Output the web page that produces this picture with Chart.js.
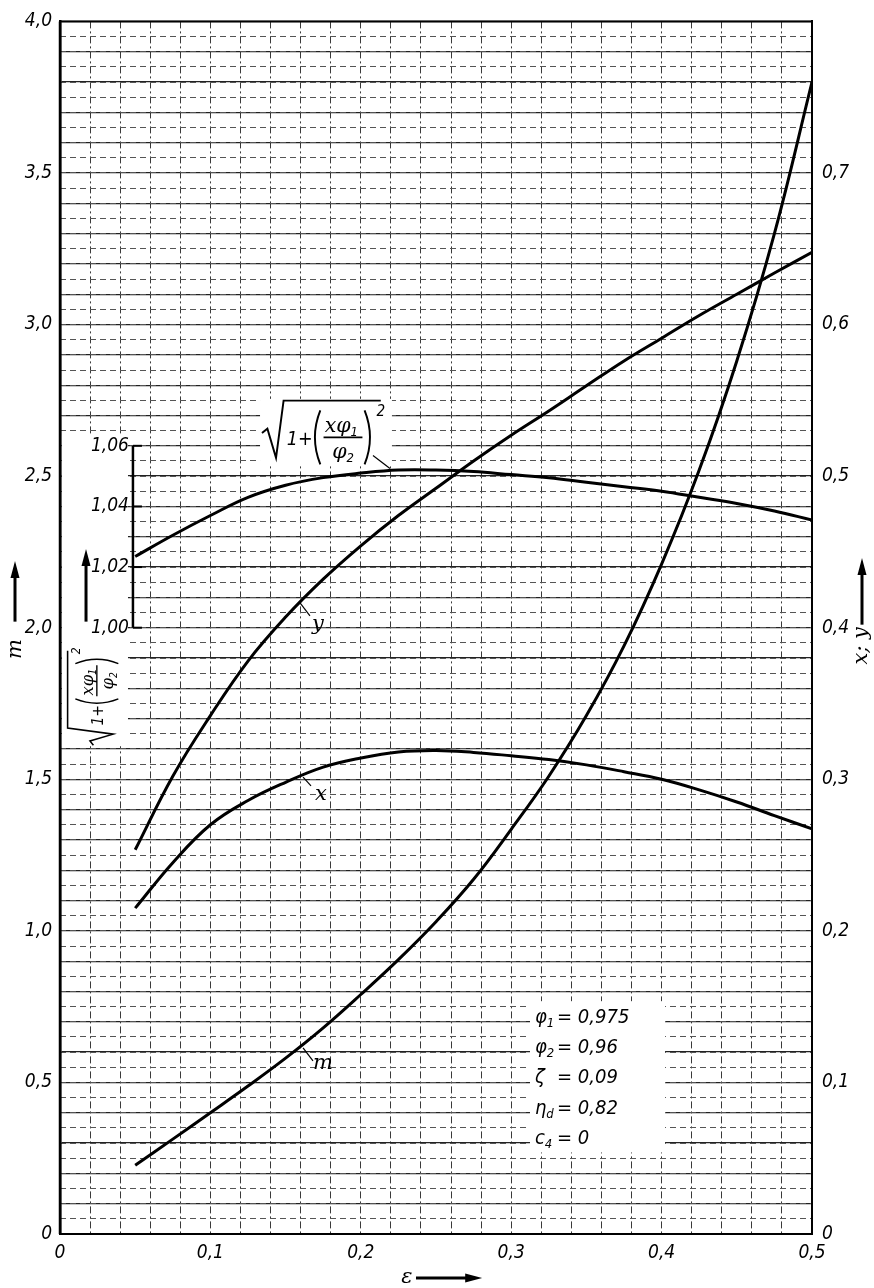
<!DOCTYPE html>
<html>
<head>
<meta charset="utf-8">
<script src="https://cdn.jsdelivr.net/npm/chart.js@4.4.1/dist/chart.umd.min.js"></script>
<style>
    body { margin: 0; background: #fff; }
    #wrap { width: 874px; height: 1288px; }
</style>
</head>
<body>
<div id="wrap"><canvas id="chart" width="874" height="1288"></canvas></div>
<script>
// degree eps on the bottom axis
const eps = [0.05, 0.075, 0.1, 0.125, 0.15, 0.175, 0.2, 0.225, 0.25, 0.275, 0.3, 0.325, 0.35, 0.375, 0.4, 0.425, 0.45, 0.475, 0.5];
// left axis
const mVals = [0.227, 0.313, 0.400, 0.488, 0.580, 0.680, 0.790, 0.905, 1.030, 1.170, 1.335, 1.51, 1.71, 1.94, 2.21, 2.52, 2.88, 3.30, 3.80];
// right axis
const xVals = [0.215, 0.245, 0.270, 0.286, 0.298, 0.308, 0.314, 0.318, 0.319, 0.3177, 0.3155, 0.313, 0.3095, 0.305, 0.300, 0.293, 0.285, 0.276, 0.2673];
const yVals = [0.2535, 0.302, 0.342, 0.378, 0.407, 0.432, 0.454, 0.474, 0.492, 0.510, 0.527, 0.543, 0.5596, 0.576, 0.591, 0.606, 0.620, 0.634, 0.6476];
// inset axis sqrt(1+(x phi1/phi2)^2)
const rootVals = [1.0235, 1.0305, 1.037, 1.043, 1.047, 1.0495, 1.051, 1.052, 1.052, 1.0515, 1.0505, 1.0495, 1.048, 1.0465, 1.045, 1.043, 1.041, 1.0385, 1.0355];

const epsTicks = [0, 0.1, 0.2, 0.3, 0.4, 0.5];
const mTicks = [0, 0.5, 1.0, 1.5, 2.0, 2.5, 3.0, 3.5, 4.0];
const xyTicks = [0, 0.1, 0.2, 0.3, 0.4, 0.5, 0.6, 0.7];
const rootTicks = [1.00, 1.02, 1.04, 1.06];
const params = [['φ', '1', '= 0,975'], ['φ', '2', '= 0,96'], ['ζ', '', '= 0,09'], ['η', 'd', '= 0,82'], ['c', '4', '= 0']];

const sans = "'DejaVu Sans Condensed', 'Liberation Sans Narrow', 'DejaVu Sans', sans-serif";
const serif = "'DejaVu Serif', 'Liberation Serif', serif";
const tickFont = { family: sans, size: 19, style: 'italic' };

function near(list, v) { return list.some(t => Math.abs(t - v) < 1e-9); }
function comma(v, d) { return v === 0 ? '0' : v.toFixed(d).replace('.', ','); }
function pts(vals) { return eps.map((e, i) => ({ x: e, y: vals[i] })); }

function arrow(ctx, x1, y1, x2, y2) {
    const a = Math.atan2(y2 - y1, x2 - x1);
    ctx.save();
    ctx.lineWidth = 3;
    ctx.beginPath();
    ctx.moveTo(x1, y1);
    ctx.lineTo(x2 - 10 * Math.cos(a), y2 - 10 * Math.sin(a));
    ctx.stroke();
    ctx.translate(x2, y2);
    ctx.rotate(a);
    ctx.beginPath();
    ctx.moveTo(0, 0);
    ctx.lineTo(-17, -4.5);
    ctx.lineTo(-17, 4.5);
    ctx.closePath();
    ctx.fill();
    ctx.restore();
}

// origin: left end of the radical, y = fraction bar
function rootFormula(ctx, s) {
    ctx.save();
    ctx.scale(s, s);
    ctx.lineWidth = 1.8;
    ctx.beginPath();
    ctx.moveTo(0, -4); ctx.lineTo(5, -8); ctx.lineTo(13, 19); ctx.lineTo(20, -34); ctx.lineTo(110, -34);
    ctx.stroke();
    ctx.textAlign = 'left';
    ctx.textBaseline = 'alphabetic';
    ctx.font = 'italic 18px ' + sans;
    ctx.fillText('1+', 23, 7);
    ctx.beginPath();
    ctx.moveTo(54, -25); ctx.quadraticCurveTo(44, 0, 54, 25);
    ctx.moveTo(95, -25); ctx.quadraticCurveTo(105, 0, 95, 25);
    ctx.stroke();
    ctx.font = 'italic 19px ' + serif;
    ctx.fillText('xφ', 58, -5);
    let w = ctx.measureText('xφ').width;
    ctx.font = 'italic 12px ' + sans;
    ctx.fillText('1', 58 + w, -1);
    ctx.font = 'italic 19px ' + serif;
    ctx.fillText('φ', 65, 19);
    w = ctx.measureText('φ').width;
    ctx.font = 'italic 12px ' + sans;
    ctx.fillText('2', 65 + w, 23);
    ctx.lineWidth = 1.6;
    ctx.beginPath(); ctx.moveTo(57, 0); ctx.lineTo(93, 0); ctx.stroke();
    ctx.font = 'italic 14px ' + sans;
    ctx.fillText('2', 106, -20);
    ctx.restore();
}

const annotate = {
    id: 'annotate',
    beforeDatasetsDraw(chart) {
        const { ctx, scales } = chart;
        const X = v => scales.x.getPixelForValue(v);
        const M = v => scales.y.getPixelForValue(v);
        const box = (e1, e2, m1, m2) => ctx.fillRect(X(e1), M(m1), X(e2) - X(e1), M(m2) - M(m1));
        ctx.save();
        ctx.fillStyle = '#fff';
        box(0.0013, 0.0452, 2.634, 1.609);
        box(0.133, 0.2207, 2.755, 2.537);
        box(0.3125, 0.4023, 0.768, 0.269);
        ctx.restore();
    },
    afterDraw(chart) {
        const { ctx, chartArea: a, scales } = chart;
        const X = v => scales.x.getPixelForValue(v);
        const M = v => scales.y.getPixelForValue(v);
        const R = v => scales.y3.getPixelForValue(v);
        ctx.save();
        ctx.fillStyle = '#000';
        ctx.strokeStyle = '#000';

        // frame
        ctx.lineWidth = 2;
        ctx.strokeRect(a.left, a.top, a.right - a.left, a.bottom - a.top);
        ctx.lineWidth = 2.5;
        ctx.beginPath(); ctx.moveTo(a.left, a.top); ctx.lineTo(a.left, a.bottom); ctx.stroke();

        // inset axis
        const ix = X(0.0485);
        ctx.lineWidth = 2.5;
        ctx.beginPath(); ctx.moveTo(ix, R(1.0)); ctx.lineTo(ix, R(1.06)); ctx.stroke();
        ctx.lineWidth = 2;
        ctx.font = 'italic 19px ' + sans;
        ctx.textAlign = 'right';
        ctx.textBaseline = 'middle';
        rootTicks.forEach(t => {
            const ty = R(t);
            ctx.beginPath(); ctx.moveTo(ix, ty); ctx.lineTo(ix + 9, ty); ctx.stroke();
            ctx.fillText(comma(t, 2), ix - 4, ty);
        });
        arrow(ctx, X(0.0173), M(2.02), X(0.0173), M(2.26));

        // rotated inset title
        ctx.save();
        ctx.translate(X(0.0245), M(1.612));
        ctx.rotate(-Math.PI / 2);
        rootFormula(ctx, 0.86);
        ctx.restore();

        // formula at the curve
        ctx.save();
        ctx.translate(X(0.1343), M(2.628));
        rootFormula(ctx, 1.08);
        ctx.restore();

        // leaders and curve names
        ctx.lineWidth = 1.2;
        const leader = (e1, m1, e2, m2) => {
            ctx.beginPath(); ctx.moveTo(X(e1), M(m1)); ctx.lineTo(X(e2), M(m2)); ctx.stroke();
        };
        leader(0.2081, 2.568, 0.2194, 2.525);
        leader(0.1596, 2.082, 0.1662, 2.039);
        leader(0.1616, 1.507, 0.1669, 1.478);
        leader(0.1616, 0.614, 0.1682, 0.571);
        ctx.font = 'italic 21px ' + serif;
        ctx.textAlign = 'center';
        ctx.textBaseline = 'middle';
        ctx.fillText('y', X(0.1715), M(2.012));
        ctx.fillText('x', X(0.1735), M(1.448));
        ctx.fillText('m', X(0.1749), M(0.561));

        // parameters
        const pm = [0.713, 0.614, 0.516, 0.414, 0.315];
        ctx.textAlign = 'left';
        ctx.textBaseline = 'middle';
        params.forEach((p, i) => {
            const py = M(pm[i]);
            const px = X(0.3158);
            ctx.font = 'italic 20px ' + sans;
            ctx.fillText(p[0], px, py);
            const w = ctx.measureText(p[0]).width;
            ctx.font = 'italic 13px ' + sans;
            ctx.fillText(p[1], px + w, py + 6);
            ctx.font = 'italic 20px ' + sans;
            ctx.fillText(p[2], X(0.3305), py);
        });

        // axis titles
        ctx.font = 'italic 21px ' + serif;
        ctx.save();
        ctx.translate(a.left - 44, M(1.93));
        ctx.rotate(-Math.PI / 2);
        ctx.textAlign = 'center';
        ctx.fillText('m', 0, 0);
        ctx.restore();
        arrow(ctx, a.left - 45, M(2.02), a.left - 45, M(2.22));

        ctx.save();
        ctx.translate(a.right + 50, M(1.94));
        ctx.rotate(-Math.PI / 2);
        ctx.textAlign = 'center';
        ctx.fillText('x; y', 0, 0);
        ctx.restore();
        arrow(ctx, a.right + 50, M(2.01), a.right + 50, M(2.23));

        ctx.textAlign = 'center';
        ctx.fillText('ε', X(0.2307), a.bottom + 44);
        arrow(ctx, X(0.2367), a.bottom + 44, X(0.2807), a.bottom + 44);
        ctx.restore();
    }
};

const line = { borderColor: '#000', borderWidth: 3, pointRadius: 0, fill: false, tension: 0.4 };

new Chart(document.getElementById('chart'), {
    type: 'line',
    data: {
        datasets: [
            Object.assign({ label: 'm', data: pts(mVals), yAxisID: 'y' }, line),
            Object.assign({ label: 'x', data: pts(xVals), yAxisID: 'y2' }, line),
            Object.assign({ label: 'y', data: pts(yVals), yAxisID: 'y2' }, line),
            Object.assign({ label: 'root', data: pts(rootVals), yAxisID: 'y3' }, line)
        ]
    },
    options: {
        responsive: false,
        animation: false,
        devicePixelRatio: 1,
        events: [],
        layout: { padding: { top: 16, left: 0, right: 0, bottom: 0 } },
        plugins: {
            legend: { display: false },
            tooltip: { enabled: false }
        },
        scales: {
            x: {
                type: 'linear',
                position: 'bottom',
                min: 0,
                max: 0.5,
                afterFit: s => { s.height = 54; },
                grid: { color: '#3a3a3a', lineWidth: 1, drawTicks: false },
                border: { color: '#000', width: 2, dash: [7, 3, 2, 3] },
                ticks: {
                    stepSize: 0.02, autoSkip: false, maxRotation: 0, padding: 8,
                    color: '#000', font: tickFont,
                    callback: v => near(epsTicks, v) ? comma(v, 1) : ''
                }
            },
            y: {
                type: 'linear',
                position: 'left',
                min: 0,
                max: 4,
                afterFit: s => { s.width = 60; },
                grid: { color: '#222', lineWidth: 1.3, drawTicks: false },
                border: { color: '#000', width: 2.5 },
                ticks: {
                    stepSize: 0.1, autoSkip: false, padding: 8,
                    color: '#000', font: tickFont,
                    callback: v => near(mTicks, v) ? comma(v, 1) : ''
                }
            },
            y2: {
                type: 'linear',
                axis: 'y',
                position: 'right',
                min: 0,
                max: 0.8,
                afterFit: s => { s.width = 62; },
                grid: { color: '#555', lineWidth: 1, drawTicks: false },
                border: { color: '#000', width: 2, dash: [6, 4] },
                ticks: {
                    stepSize: 0.01, autoSkip: false, padding: 10,
                    color: '#000', font: tickFont,
                    callback: v => near(xyTicks, v) ? comma(v, 1) : ''
                }
            },
            y3: { type: 'linear', axis: 'y', position: 'left', display: false, min: 0.8, max: 1.2 }
        }
    },
    plugins: [annotate]
});
</script>
</body>
</html>
